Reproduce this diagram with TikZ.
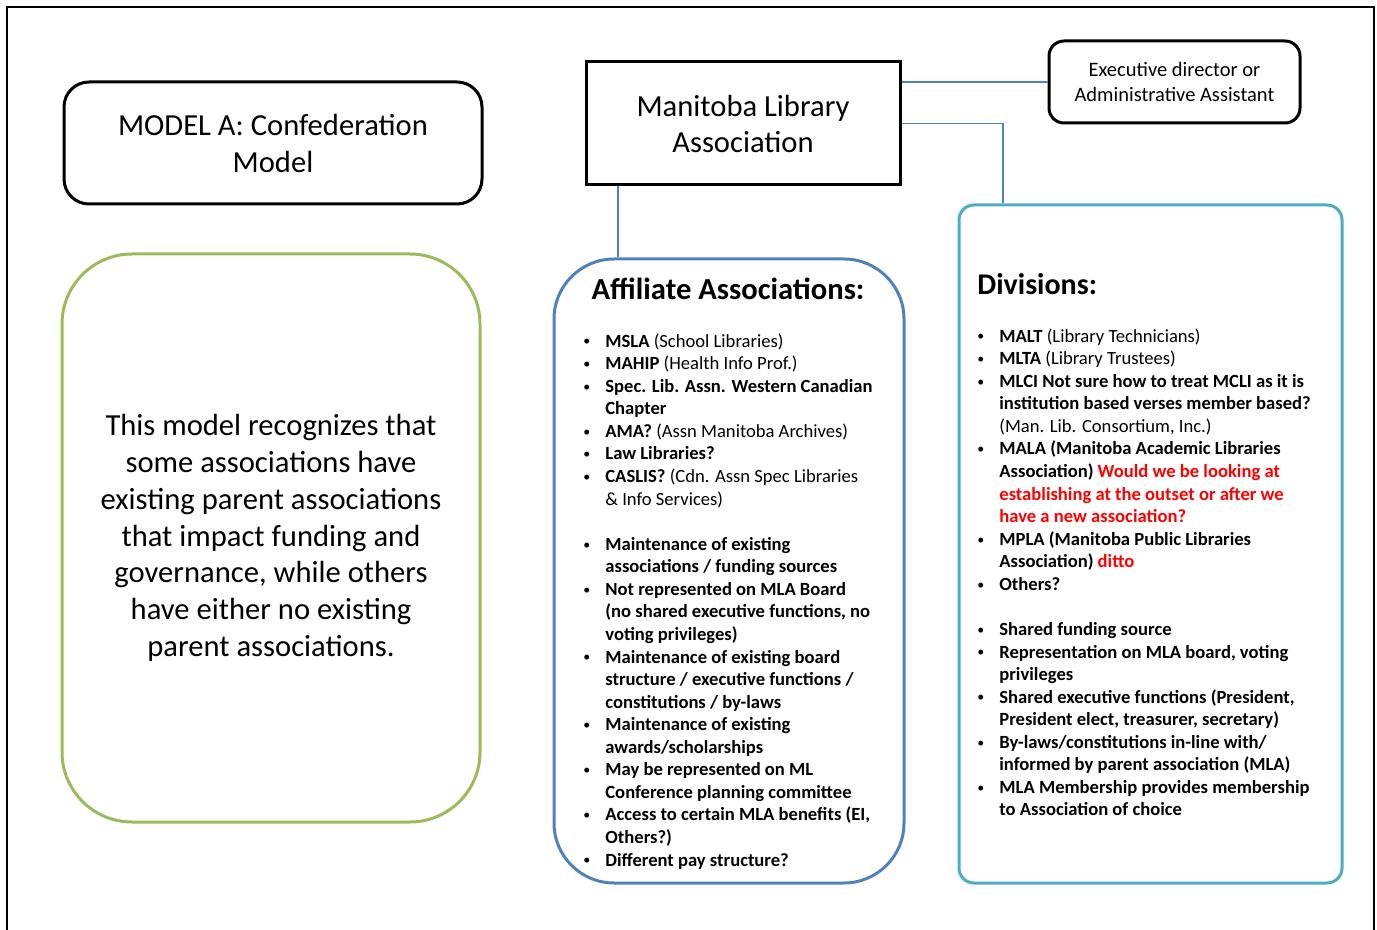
\documentclass[tikz,border=0pt]{standalone}
\usepackage{fontspec}
\setmainfont{Carlito}
\usepackage{xcolor}
\usepackage{tikz}
\definecolor{leaf}{HTML}{9BBB59}
\definecolor{steel}{HTML}{4F81BD}
\definecolor{aqua}{HTML}{4BACC6}
\definecolor{alert}{HTML}{FF0000}
\tikzset{hd/.style={draw=black,line width=1.5pt,align=center,inner sep=0pt}}
\tikzset{grp/.style={line width=1.5pt,inner sep=0pt}}
\tikzset{link/.style={draw=steel,line width=0.6pt}}
\tikzset{lst/.style={align=left,inner sep=0pt,anchor=north west,font=\fontsize{9.3}{11.28}\selectfont}}
\newcommand{\bul}{\strut\makebox[11pt][l]{\raisebox{0.6pt}{\scalebox{0.75}{\textbullet}}}}
\newcommand{\cnt}{\strut\hspace*{11pt}}

\begin{document}
\begin{tikzpicture}[x=0.5pt,y=-0.5pt]
\useasboundingbox (0,0) rectangle (1377,930);
\draw[line width=1pt] (7,930) |- (1374,7) -- (1374,930);

\node[hd,rounded corners=12.5pt,minimum width=209pt,minimum height=61pt,font=\fontsize{15.3}{18.5}\selectfont] (modela) at (273,143) {MODEL A: Confederation\\Model};
\node[hd,minimum width=157pt,minimum height=61.5pt,font=\fontsize{15.3}{18}\selectfont] (mla) at (743,123.5) {Manitoba Library\\Association};
\node[hd,rounded corners=7.5pt,minimum width=125.5pt,minimum height=41pt,font=\fontsize{10.25}{12.5}\selectfont] (exec) at (1174.5,82) {Executive director or\\Administrative Assistant};

\node[grp,draw=leaf,rounded corners=35pt,minimum width=209pt,minimum height=284pt,align=center,font=\fontsize{15.3}{18.4}\selectfont] (note) at (271,538) {This model recognizes that\\some associations have\\existing parent associations\\that impact funding and\\governance, while others\\have either no existing\\parent associations.};
\node[grp,draw=steel,rounded corners=30pt,minimum width=175pt,minimum height=312pt] (affil) at (729,571) {};
\node[grp,draw=aqua,rounded corners=7.5pt,minimum width=191.5pt,minimum height=339pt] (divs) at (1150.5,544) {};

\draw[link] (exec.west) -- (exec.west -| mla.east);
\draw[link] (mla.east) -| ([xshift=-73.75pt]divs.north);
\draw[link] ([xshift=-62.5pt]mla.south) -- ([xshift=-62.5pt]mla.south |- affil.north);

\node[font=\fontsize{15.3}{18}\selectfont\bfseries,anchor=base,inner sep=0pt] (affiltitle) at (728,300) {Affiliate Associations:};
\node[lst] (affillist) at (583,331) {%
\bul\textbf{MSLA} (School Libraries)\\
\bul\textbf{MAHIP} (Health Info Prof.)\\
\bul\textbf{Spec. Lib. Assn. Western Canadian}\\
\cnt\textbf{Chapter}\\
\bul\textbf{AMA?} (Assn Manitoba Archives)\\
\bul\textbf{Law Libraries?}\\
\bul\textbf{CASLIS?} (Cdn. Assn Spec Libraries\\
\cnt\& Info Services)\\
\strut\\
\bul\textbf{Maintenance of existing}\\
\cnt\textbf{associations / funding sources}\\
\bul\textbf{Not represented on MLA Board}\\
\cnt\textbf{(no shared executive functions, no}\\
\cnt\textbf{voting privileges)}\\
\bul\textbf{Maintenance of existing board}\\
\cnt\textbf{structure / executive functions /}\\
\cnt\textbf{constitutions / by-laws}\\
\bul\textbf{Maintenance of existing}\\
\cnt\textbf{awards/scholarships}\\
\bul\textbf{May be represented on ML}\\
\cnt\textbf{Conference planning committee}\\
\bul\textbf{Access to certain MLA benefits (EI,}\\
\cnt\textbf{Others?)}\\
\bul\textbf{Different pay structure?}};

\node[font=\fontsize{15}{18}\selectfont\bfseries,anchor=base west,inner sep=0pt] (divtitle) at (977,295) {Divisions:};
\node[lst] (divlist) at (977,326) {%
\bul\textbf{MALT} (Library Technicians)\\
\bul\textbf{MLTA} (Library Trustees)\\
\bul\textbf{MLCI Not sure how to treat MCLI as it is}\\
\cnt\textbf{institution based verses member based?}\\
\cnt(Man. Lib. Consortium, Inc.)\\
\bul\textbf{MALA (Manitoba Academic Libraries}\\
\cnt\textbf{Association) \textcolor{alert}{Would we be looking at}}\\
\cnt\textbf{\textcolor{alert}{establishing at the outset or after we}}\\
\cnt\textbf{\textcolor{alert}{have a new association?}}\\
\bul\textbf{MPLA (Manitoba Public Libraries}\\
\cnt\textbf{Association) \textcolor{alert}{ditto}}\\
\bul\textbf{Others?}\\
\strut\\
\bul\textbf{Shared funding source}\\
\bul\textbf{Representation on MLA board, voting}\\
\cnt\textbf{privileges}\\
\bul\textbf{Shared executive functions (President,}\\
\cnt\textbf{President elect, treasurer, secretary)}\\
\bul\textbf{By-laws/constitutions in-line with/}\\
\cnt\textbf{informed by parent association (MLA)}\\
\bul\textbf{MLA Membership provides membership}\\
\cnt\textbf{to Association of choice}};
\end{tikzpicture}
\end{document}
